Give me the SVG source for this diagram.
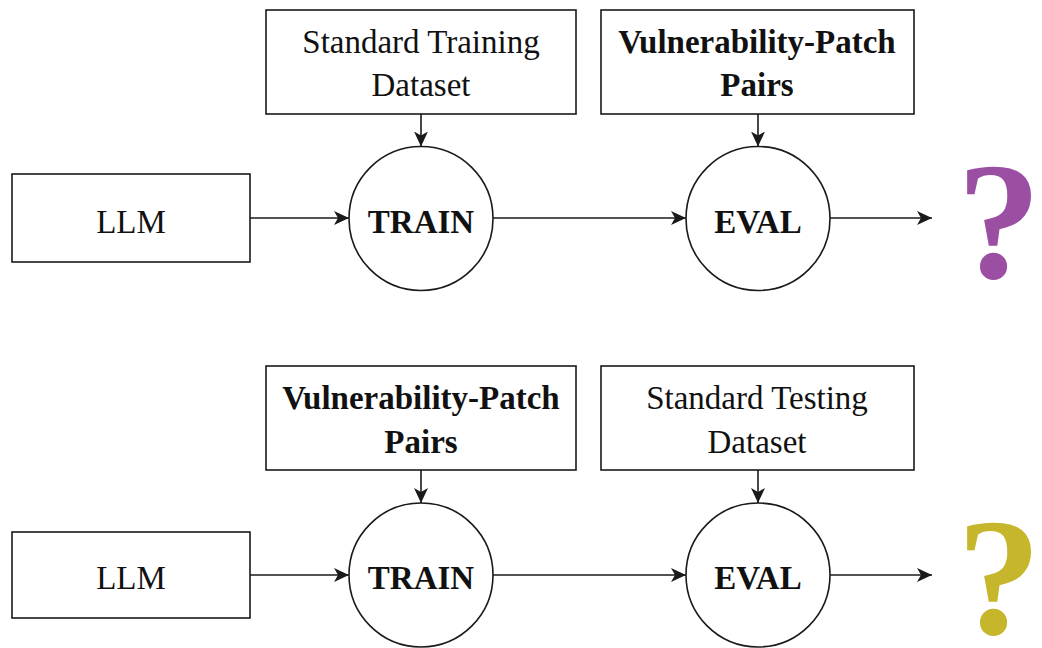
<svg xmlns="http://www.w3.org/2000/svg" width="1042" height="648" viewBox="0 0 1042 648">
<defs>
<style>
.box{fill:#fff;stroke:#1a1a1a;stroke-width:1.6}
.circ{fill:#fff;stroke:#1a1a1a;stroke-width:1.6}
.t{font-family:"Liberation Serif","Times New Roman",serif;font-size:33px;fill:#111;text-anchor:middle}
.b{font-weight:bold}
.edge{stroke:#1a1a1a;stroke-width:1.6;fill:none;marker-end:url(#ah)}
.q{font-family:"Liberation Serif","Times New Roman",serif;font-size:168px;font-weight:bold;text-anchor:end}
</style>
<marker id="ah" markerUnits="userSpaceOnUse" markerWidth="16" markerHeight="14" refX="15" refY="7" orient="auto" viewBox="0 0 16 14">
<path d="M0,0 L15,7 L0,14 L4,7 Z" fill="#1a1a1a"/>
</marker>
</defs>

<g id="connectors">
<line class="edge" x1="250" y1="218" x2="349" y2="218"/>
<line class="edge" x1="493" y1="218" x2="686" y2="218"/>
<line class="edge" x1="830" y1="218" x2="932" y2="218"/>
<line class="edge" x1="421" y1="114" x2="421" y2="146.5"/>
<line class="edge" x1="758" y1="114" x2="758" y2="146.5"/>
<line class="edge" x1="250" y1="575" x2="349" y2="575"/>
<line class="edge" x1="493" y1="575" x2="686" y2="575"/>
<line class="edge" x1="830" y1="575" x2="932" y2="575"/>
<line class="edge" x1="421" y1="470" x2="421" y2="503"/>
<line class="edge" x1="758" y1="470" x2="758" y2="503"/>
</g>

<g id="top-llm"><rect class="box" x="12" y="174" width="238" height="88"/><text class="t" x="131" y="233">LLM</text></g>
<g id="top-train-data"><rect class="box" x="266" y="10" width="310" height="104"/><text class="t" x="421" y="53">Standard Training</text><text class="t" x="421" y="96">Dataset</text></g>
<g id="top-vp-pairs"><rect class="box" x="601" y="10" width="313" height="104"/><text class="t b" x="757" y="53">Vulnerability-Patch</text><text class="t b" x="757" y="96">Pairs</text></g>
<g id="top-train"><circle class="circ" cx="421" cy="218.5" r="72"/><text class="t b" x="421" y="233">TRAIN</text></g>
<g id="top-eval"><circle class="circ" cx="758" cy="218.5" r="72"/><text class="t b" x="758" y="233">EVAL</text></g>
<g id="top-q"><text class="q" x="1041" y="278" fill="#9b4fa2">?</text></g>

<g id="bot-llm"><rect class="box" x="12" y="532" width="238" height="86"/><text class="t" x="131" y="589">LLM</text></g>
<g id="bot-vp-pairs"><rect class="box" x="266" y="366" width="310" height="104"/><text class="t b" x="421" y="409">Vulnerability-Patch</text><text class="t b" x="421" y="453">Pairs</text></g>
<g id="bot-test-data"><rect class="box" x="601" y="366" width="313" height="104"/><text class="t" x="757" y="409">Standard Testing</text><text class="t" x="757" y="453">Dataset</text></g>
<g id="bot-train"><circle class="circ" cx="421" cy="575" r="72"/><text class="t b" x="421" y="589">TRAIN</text></g>
<g id="bot-eval"><circle class="circ" cx="758" cy="575" r="72"/><text class="t b" x="758" y="589">EVAL</text></g>
<g id="bot-q"><text class="q" x="1041" y="634" fill="#c5b62c">?</text></g>
</svg>
